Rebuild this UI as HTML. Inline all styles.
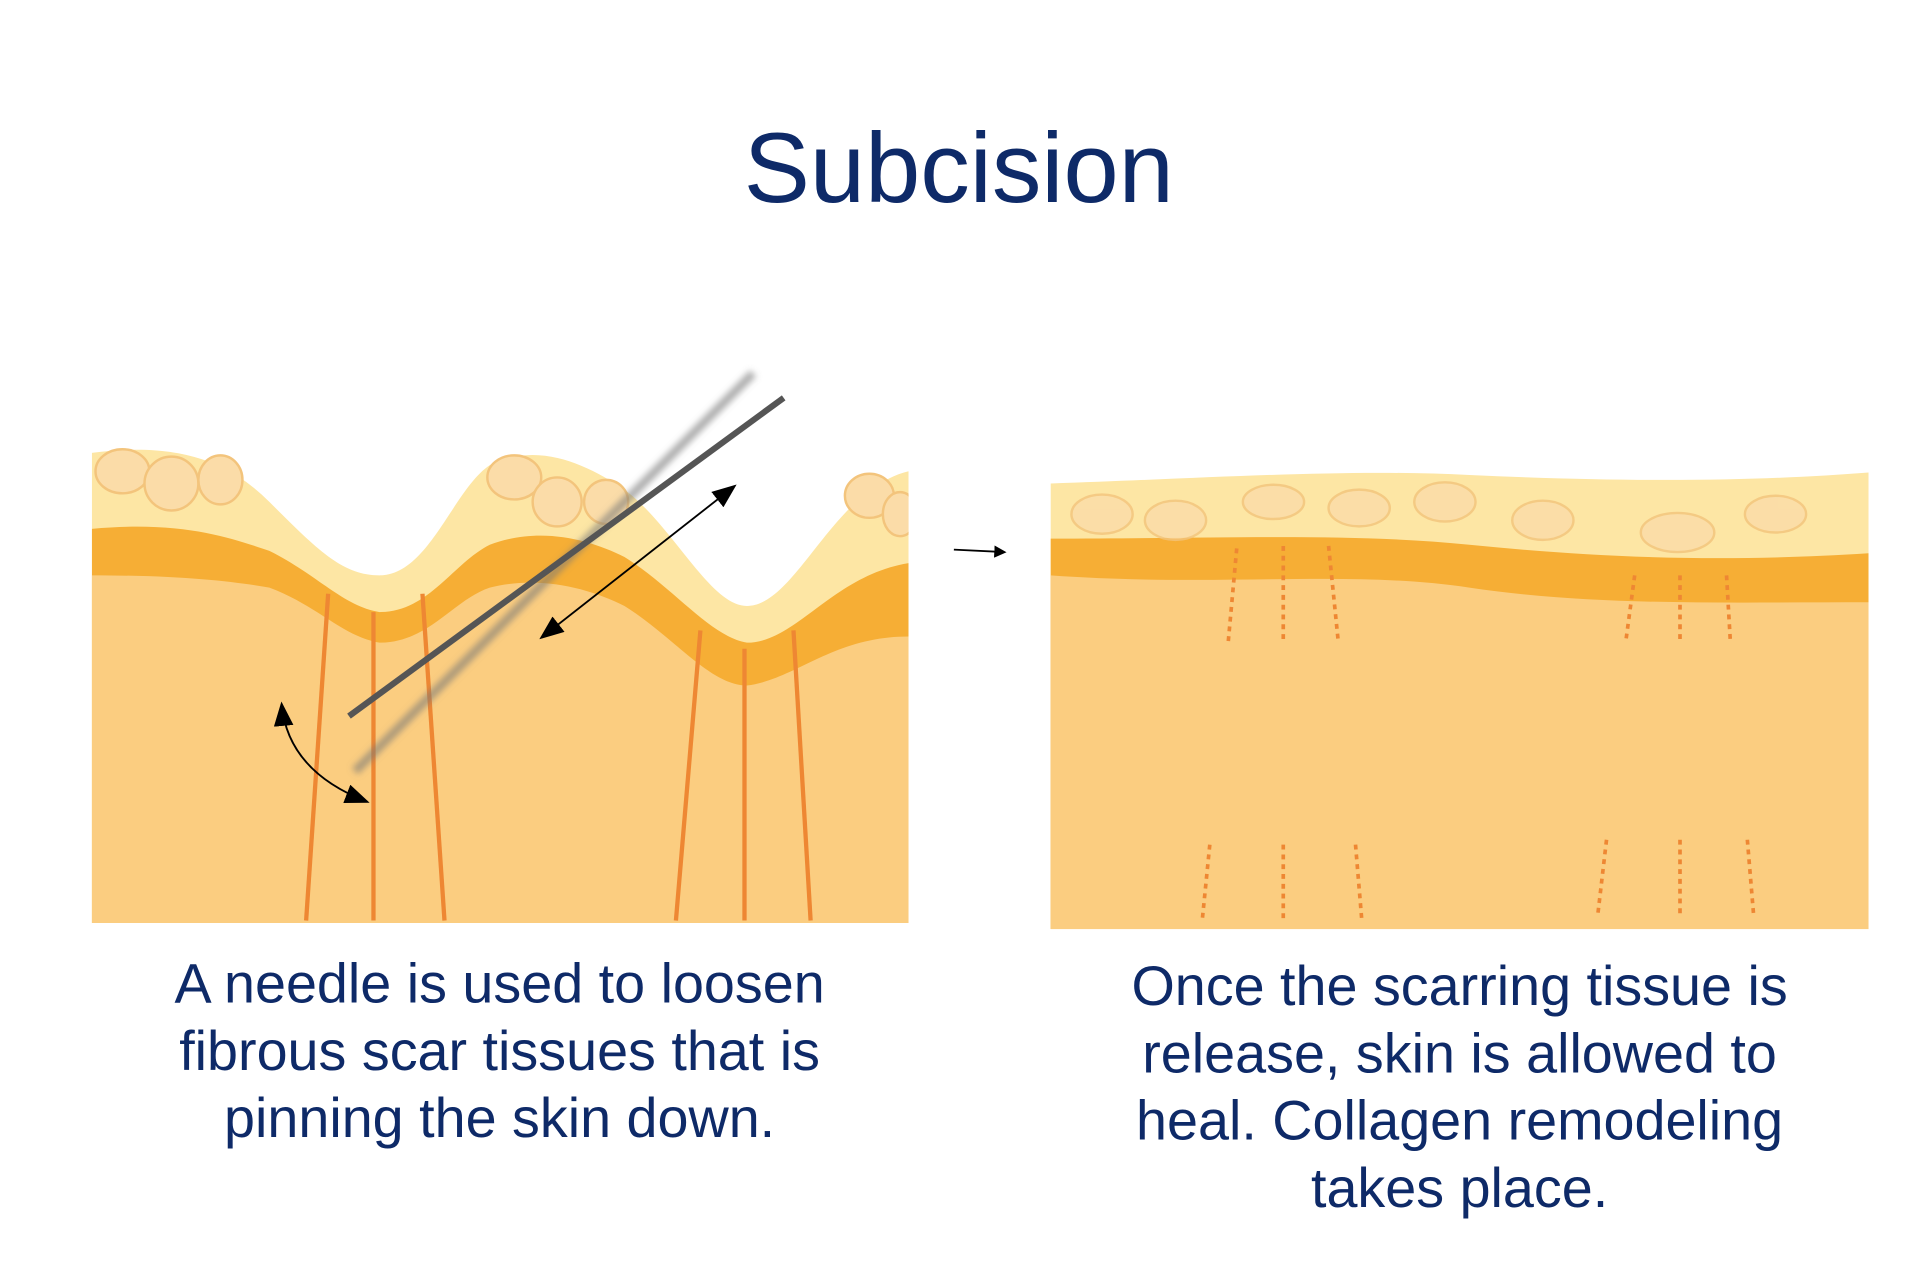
<!DOCTYPE html>
<html><head><meta charset="utf-8"><style>
html,body{margin:0;padding:0;background:#fff;width:1920px;height:1278px;overflow:hidden}
svg{display:block}
text{font-family:"Liberation Sans",Arial,sans-serif;fill:#0e2a68}
</style></head><body>
<svg width="1920" height="1278" viewBox="0 0 1568 1044" preserveAspectRatio="none">
<defs>
<clipPath id="cl"><rect x="75" y="300" width="667" height="454"/></clipPath>
<clipPath id="cr"><rect x="858" y="300" width="668" height="459"/></clipPath>
<filter id="bl"><feGaussianBlur stdDeviation="2.5"/></filter>
<marker id="ah" markerWidth="10" markerHeight="10" refX="8" refY="5" orient="auto" markerUnits="userSpaceOnUse"><path d="M0,0 L10,5 L0,10 z" fill="#000"/></marker>
<marker id="ah2" markerWidth="20" markerHeight="16" refX="18" refY="8" orient="auto" markerUnits="userSpaceOnUse"><path d="M0,0 L20,8 L0,16 z" fill="#000"/></marker>
<marker id="as" markerWidth="20" markerHeight="16" refX="2" refY="8" orient="auto" markerUnits="userSpaceOnUse"><path d="M20,0 L0,8 L20,16 z" fill="#000"/></marker>
</defs>
<text x="783" y="165" font-size="81" text-anchor="middle">Subcision</text>

<g clip-path="url(#cl)">
<path d="M75,370 C150,360 190,380 220,410 C260,450 280,470 310,470 C350,470 370,400 400,380 C440,360 480,380 510,400 C550,430 580,495 610,495 C650,495 680,400 742,385 L742,754 L75,754 Z" fill="#fde6a4"/>
<path d="M75,432 C150,425 190,440 220,450 C260,470 280,495 310,500 C350,500 370,460 400,445 C440,430 480,440 510,455 C550,480 580,520 610,525 C650,525 680,470 742,460 L742,754 L75,754 Z" fill="#f6ae35"/>
<path d="M75,470 C150,470 190,475 220,480 C260,495 280,520 310,525 C350,525 370,490 400,480 C440,470 480,480 510,495 C550,520 580,560 610,560 C650,555 680,520 742,520 L742,754 L75,754 Z" fill="#fbcd80"/>
<g fill="#fbdca8" stroke="#f3c47c" stroke-width="2">
<ellipse cx="100" cy="385" rx="22" ry="18"/><ellipse cx="140" cy="395" rx="22" ry="22"/><ellipse cx="180" cy="392" rx="18" ry="20"/>
<ellipse cx="420" cy="390" rx="22" ry="18"/><ellipse cx="455" cy="410" rx="20" ry="20"/><ellipse cx="495" cy="410" rx="18" ry="18"/>
<ellipse cx="710" cy="405" rx="20" ry="18"/><ellipse cx="735" cy="420" rx="14" ry="18"/>
</g>
</g>
<g stroke="#ee8733" stroke-width="3.5">
<line x1="268" y1="485" x2="250" y2="752"/><line x1="305" y1="500" x2="305" y2="752"/><line x1="345" y1="485" x2="363" y2="752"/>
<line x1="572" y1="515" x2="552" y2="752"/><line x1="608" y1="530" x2="608" y2="752"/><line x1="648" y1="515" x2="662" y2="752"/>
</g>
<line x1="615" y1="305" x2="290" y2="630" stroke="#777" stroke-width="7" stroke-opacity="0.6" filter="url(#bl)"/>
<line x1="640" y1="325" x2="285" y2="585" stroke="#555" stroke-width="5"/>
<line x1="600" y1="397" x2="442" y2="521" stroke="#000" stroke-width="1.5" marker-end="url(#ah2)" marker-start="url(#as)"/>
<path d="M230,575 Q235,630 300,655" fill="none" stroke="#000" stroke-width="1.5" marker-end="url(#ah2)" marker-start="url(#as)"/>
<line x1="779" y1="449" x2="820" y2="451" stroke="#000" stroke-width="1.5" marker-end="url(#ah)"/>

<g clip-path="url(#cr)">
<path d="M858,395 C1000,390 1100,383 1200,388 C1350,395 1450,392 1526,386 L1526,759 L858,759 Z" fill="#fde6a4"/>
<path d="M858,440 C1000,440 1100,435 1200,445 C1300,455 1400,460 1526,452 L1526,759 L858,759 Z" fill="#f6ae35"/>
<path d="M858,470 C1000,480 1100,465 1200,480 C1300,495 1400,492 1526,492 L1526,759 L858,759 Z" fill="#fbcd80"/>
<g fill="#fbdca8" stroke="#f3c47c" stroke-width="2" opacity="0.8">
<ellipse cx="900" cy="420" rx="25" ry="16"/><ellipse cx="960" cy="425" rx="25" ry="16"/><ellipse cx="1040" cy="410" rx="25" ry="14"/><ellipse cx="1110" cy="415" rx="25" ry="15"/>
<ellipse cx="1180" cy="410" rx="25" ry="16"/><ellipse cx="1260" cy="425" rx="25" ry="16"/><ellipse cx="1370" cy="435" rx="30" ry="16"/><ellipse cx="1450" cy="420" rx="25" ry="15"/>
</g>
</g>
<g stroke="#ee8733" stroke-width="3" stroke-dasharray="4,4">
<line x1="1010" y1="448" x2="1003" y2="525"/><line x1="1048" y1="446" x2="1048" y2="525"/><line x1="1085" y1="446" x2="1093" y2="525"/>
<line x1="1335" y1="470" x2="1328" y2="522"/><line x1="1372" y1="470" x2="1372" y2="522"/><line x1="1410" y1="470" x2="1413" y2="522"/>
<line x1="988" y1="690" x2="982" y2="750"/><line x1="1048" y1="690" x2="1048" y2="750"/><line x1="1107" y1="690" x2="1112" y2="750"/>
<line x1="1312" y1="686" x2="1305" y2="746"/><line x1="1372" y1="686" x2="1372" y2="746"/><line x1="1427" y1="686" x2="1432" y2="746"/>
</g>

<g font-size="45.5" text-anchor="middle">
<text x="408" y="819">A needle is used to loosen</text>
<text x="408" y="874">fibrous scar tissues that is</text>
<text x="408" y="929">pinning the skin down.</text>
<text x="1192" y="821">Once the scarring tissue is</text>
<text x="1192" y="876">release, skin is allowed to</text>
<text x="1192" y="931">heal. Collagen remodeling</text>
<text x="1192" y="986">takes place.</text>
</g>
</svg>
</body></html>
